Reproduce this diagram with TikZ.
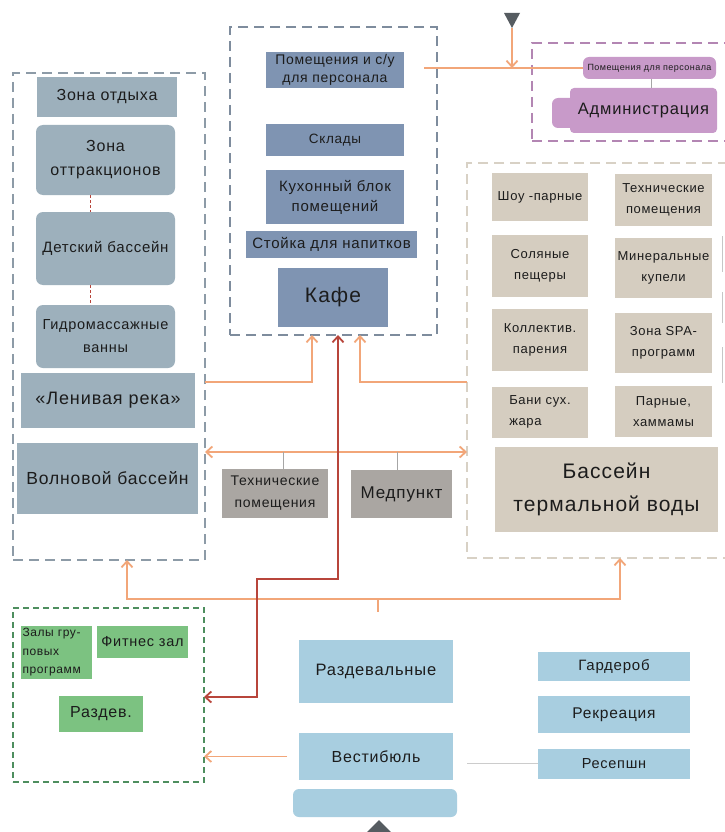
\documentclass[tikz,border=0pt]{standalone}
\usepackage{fontspec}
\setmainfont{Liberation Sans}[LetterSpace=5]
\usetikzlibrary{arrows.meta}
\definecolor{lbox}{HTML}{9DB0BC}
\definecolor{lzone}{HTML}{8D9BA7}
\definecolor{cbox}{HTML}{7F94B2}
\definecolor{czone}{HTML}{7E8C9D}
\definecolor{abox}{HTML}{C89AC9}
\definecolor{azone}{HTML}{B386B3}
\definecolor{tbox}{HTML}{D5CDC0}
\definecolor{tzone}{HTML}{D8D1C5}
\definecolor{gbox}{HTML}{AAA6A2}
\definecolor{grbox}{HTML}{7CC281}
\definecolor{grzone}{HTML}{4E8E5E}
\definecolor{bbox}{HTML}{A8CEE0}
\definecolor{orl}{HTML}{F2A679}
\definecolor{rdl}{HTML}{B8453B}
\definecolor{tri}{HTML}{565C61}
\definecolor{txt}{HTML}{1C1C1C}
\newcommand\fs[2]{\fontsize{#1}{#2}\selectfont}
\tikzset{
  bx/.style={inner sep=0pt, outer sep=0pt, align=center, text=txt},
  lb/.style={bx, fill=lbox},
  cb/.style={bx, fill=cbox},
  tb/.style={bx, fill=tbox, font=\fs{13}{21}},
  gb/.style={bx, fill=gbox},
  grb/.style={bx, fill=grbox},
  bb/.style={bx, fill=bbox},
  zone/.style={inner sep=0pt, outer sep=0pt, draw=#1, line width=2.6pt, dash pattern=on 10pt off 6pt},
  ol/.style={draw=orl, line width=1.8pt},
  tip/.tip={Straight Barb[length=6pt,width=11pt]},
  oa/.style={ol, -tip},
  thin/.style={draw=gray!70, line width=0.6pt},
}
\begin{document}
\begin{tikzpicture}[x=1pt,y=-1pt]
\useasboundingbox (0,0) rectangle (724,832);
\fill[white] (0,0) rectangle (724,832);

% ---------- zones ----------
\node[zone=lzone, minimum width=192, minimum height=487] (lz) at (109,316.5) {};
\node[zone=czone, minimum width=207, minimum height=308] (cz) at (333.5,181) {};
\node[zone=azone, minimum width=228, minimum height=98] (az) at (646,92) {};
\node[zone=tzone, minimum width=293, minimum height=395] (tz) at (613.5,360.5) {};
\node[zone=grzone, line width=1.8pt, dash pattern=on 6pt off 4pt, minimum width=191, minimum height=174] (gz) at (108.5,695) {};

% ---------- left zone ----------
\node[lb, minimum width=140, minimum height=40, font=\fs{16}{22}] (zo) at (107,97) {Зона отдыха};
\node[lb, rounded corners=7pt, minimum width=139, minimum height=70, font=\fs{16}{24}] (zat) at (105.5,160) {Зона\\оттракционов};
\node[lb, rounded corners=7pt, minimum width=139, minimum height=73, font=\fs{15}{22}] (det) at (105.5,248.5) {Детский бассейн};
\node[lb, rounded corners=7pt, minimum width=139, minimum height=63, font=\fs{14.5}{23}] (gid) at (105.5,336.5) {Гидромассажные\\ванны};
\node[lb, minimum width=174, minimum height=55, font=\fs{18}{22}] (len) at (108,400.5) {«Ленивая река»};
\node[lb, minimum width=181, minimum height=71, font=\fs{17.5}{22}] (vol) at (107.5,478.5) {Волновой бассейн};
\draw[rdl, line width=0.8pt, densely dashed] ([xshift=-15pt]zat.south) -- ([xshift=-15pt]det.north);
\draw[rdl, line width=0.8pt, densely dashed] ([xshift=-15pt]det.south) -- ([xshift=-15pt]gid.north);

% ---------- cafe zone ----------
\node[cb, minimum width=138, minimum height=36, font=\fs{14}{18}] (ps) at (335,70) {Помещения и с/у\\для персонала};
\node[cb, minimum width=138, minimum height=32, font=\fs{13.5}{18}] (sk) at (335,140) {Склады};
\node[cb, minimum width=138, minimum height=54, font=\fs{15}{20}] (kb) at (335,197) {Кухонный блок\\помещений};
\node[cb, minimum width=171, minimum height=27, font=\fs{15}{18}] (st) at (331.5,244.5) {Стойка для напитков};
\node[cb, minimum width=110, minimum height=59, font=\fs{21}{24}] (kf) at (333,297.5) {Кафе};

% ---------- administration ----------
\fill[abox, rounded corners=6pt] (552,98) rectangle (580,128);
\node[bx, fill=abox, rounded corners=4pt, minimum width=147, minimum height=45, font=\fs{16.5}{20}] (adm) at (643.5,110.5) {Администрация};
\node[bx, fill=abox, rounded corners=6pt, minimum width=133, minimum height=22, font=\fs{9}{10}] (pers) at (649.5,68) {Помещения для персонала};
\draw[thin] (pers.south -| 651,0) -- (adm.north -| 651,0);

% top entrance
\coordinate (tin) at (424,68);
\fill[tri] (504,13) -- (520,13) -- (512,28) -- cycle;
\coordinate (tt) at (512,28);
\draw[ol] (tin) -- (pers.west);
\draw[oa] (tt) -- (512,68);

% ---------- thermal zone ----------
\node[tb, minimum width=96, minimum height=48] (sh) at (540,197) {Шоу -парные};
\node[tb, minimum width=97, minimum height=52] (tp) at (663.5,200) {Технические\\помещения};
\node[tb, minimum width=96, minimum height=62] (sol) at (540,266) {Соляные\\пещеры};
\node[tb, minimum width=97, minimum height=60] (min) at (663.5,268) {Минеральные\\купели};
\node[tb, minimum width=96, minimum height=62] (kol) at (540,340) {Коллектив.\\парения};
\node[tb, minimum width=97, minimum height=60] (spa) at (663.5,343) {Зона SPA-\\программ};
\node[tb, minimum width=96, minimum height=51, align=left] (ban) at (540,412) {Бани сух.\\жара};
\node[tb, minimum width=97, minimum height=51] (par) at (663.5,411.5) {Парные,\\хаммамы};
\node[tb, minimum width=223, minimum height=85, font=\fs{21}{33}] (bas) at (606.5,489.5) {Бассейн\\термальной воды};
\draw[thin, gray!45] (722,236) -- (722,272);
\draw[thin, gray!45] (722,292) -- (722,323);
\draw[thin, gray!45] (722,347) -- (722,383);

% ---------- middle ----------
\node[gb, minimum width=106, minimum height=49, font=\fs{14}{22}] (tech) at (275,493.5) {Технические\\помещения};
\node[gb, minimum width=101, minimum height=48, font=\fs{17}{20}] (med) at (401.5,494) {Медпункт};

\draw[oa] (lz.east |- 0,382) -- (312,382) -- (cz.south -| 312,0);
\draw[oa] (tz.west |- 0,382) -- (360,382) -- (cz.south -| 360,0);
\draw[ol, tip-tip] (lz.east |- 0,452) -- (tz.west |- 0,452);
\draw[thin] (283,452) -- (tech.north -| 283,0);
\draw[thin] (397,452) -- (med.north -| 397,0);

% ---------- fitness ----------
\node[grb, minimum width=71, minimum height=53, font=\fs{12}{18.5}, align=left, text width=68] (zal) at (56.5,652.5) {Залы гру-\\повых\\программ};
\node[grb, minimum width=91, minimum height=32, font=\fs{14.5}{16}] (fit) at (142.5,642) {Фитнес зал};
\node[grb, minimum width=84, minimum height=36, font=\fs{16}{18}] (rzd) at (101,714) {Раздев.};

% ---------- entrance block ----------
\node[bb, minimum width=154, minimum height=63, font=\fs{16.5}{18}] (rzv) at (376,671.5) {Раздевальные};
\node[bb, minimum width=154, minimum height=47, font=\fs{16}{18}] (vest) at (376,756.5) {Вестибюль};
\node[bb, rounded corners=6pt, minimum width=164, minimum height=28] (blank) at (375,803) {};
\fill[tri] (365,834) -- (393,834) -- (379,820) -- cycle;
\node[bb, minimum width=152, minimum height=29, font=\fs{15}{16}] (gard) at (614,666.5) {Гардероб};
\node[bb, minimum width=152, minimum height=37, font=\fs{15.5}{16}] (rek) at (614,714.5) {Рекреация};
\node[bb, minimum width=152, minimum height=30, font=\fs{14.5}{16}] (res) at (614,764) {Ресепшн};
\draw[thin, gray!40] (467,763) -- (res.west |- 0,763);

% bottom distribution
\draw[ol, tip-tip] (lz.south -| 127,0) -- (127,599) -- (620,599) -- (tz.south -| 620,0);
\coordinate (stub) at (378,612);
\draw[ol] (378,599) -- (stub);
\draw[ol, -tip, shorten <=12pt] (vest.west) -- (gz.east |- vest.west);

% red route
\draw[rdl, line width=1.8pt, tip-tip] (gz.east |- 0,697) -- (257,697) -- (257,579) -- (338,579) -- (cz.south -| 338,0);
\end{tikzpicture}
\end{document}
